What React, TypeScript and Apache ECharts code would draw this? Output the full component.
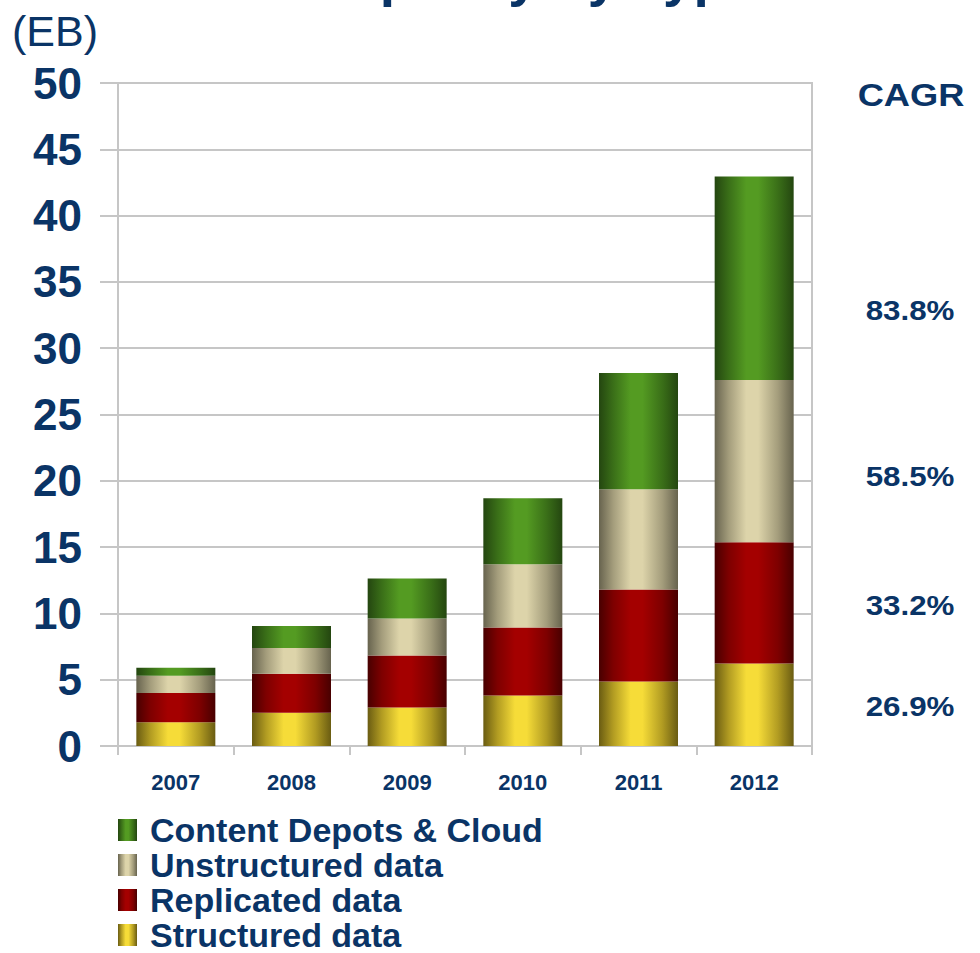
import React, { useEffect, useRef } from "react";
import * as echarts from "echarts";

const years = ["2007", "2008", "2009", "2010", "2011", "2012"];
const structured = [1.8, 2.5, 2.9, 3.8, 4.87, 6.23];
const replicated = [2.2, 2.95, 3.93, 5.14, 6.94, 9.13];
const unstructured = [1.3, 1.95, 2.79, 4.76, 7.56, 12.24];
const content = [0.6, 1.65, 3.02, 4.99, 8.76, 15.35];
const seriesNames = ["Structured data", "Replicated data", "Unstructured data", "Content Depots & Cloud"];
const cagrLabels = ["83.8%", "58.5%", "33.2%", "26.9%"];
const cagrY = [311, 477, 606, 707];

const NAVY = "#0a3466";
const GRID = "#c6c6c6";
const FONT = '"Liberation Sans", Arial, Helvetica, sans-serif';

function grad(edge: string, mid: string, light: string) {
  return new echarts.graphic.LinearGradient(0, 0, 1, 0, [
    { offset: 0, color: edge },
    { offset: 0.18, color: mid },
    { offset: 0.4, color: light },
    { offset: 0.55, color: light },
    { offset: 0.8, color: mid },
    { offset: 1, color: edge },
  ]);
}

export default function App() {
  const ref = useRef<HTMLDivElement>(null);
  useEffect(() => {
    if (!ref.current) return;
    const chart = echarts.init(ref.current, undefined, { renderer: "svg" });
    const colors = [
      grad("#6a5c12", "#b29c22", "#f6dc38"),
      grad("#480000", "#7e0000", "#a40000"),
      grad("#67634e", "#a49d7c", "#ddd4aa"),
      grad("#244610", "#3a6f18", "#549b22"),
    ];
    const data = [structured, replicated, unstructured, content];
    const graphics: any[] = [
      {
        type: "text",
        x: 175,
        y: -52,
        style: {
          text: "Data Capacity by Type",
          font: `bold 55px ${FONT}`,
          fill: NAVY,
          textAlign: "left",
          textVerticalAlign: "top",
        },
      },
      {
        type: "text",
        x: 12,
        y: 31,
        style: {
          text: "(EB)",
          font: `43px ${FONT}`,
          fill: NAVY,
          textAlign: "left",
          textVerticalAlign: "middle",
        },
      },
      {
        type: "text",
        x: 911,
        y: 95,
        scaleX: 1.17,
        style: {
          text: "CAGR",
          font: `bold 31px ${FONT}`,
          fill: NAVY,
          textAlign: "center",
          textVerticalAlign: "middle",
        },
      },
    ];
    cagrLabels.forEach((t, i) => {
      graphics.push({
        type: "text",
        x: 910,
        y: cagrY[i],
        scaleX: 1.16,
        style: {
          text: t,
          font: `bold 27px ${FONT}`,
          fill: NAVY,
          textAlign: "center",
          textVerticalAlign: "middle",
        },
      });
    });
    chart.setOption({
      animation: false,
      textStyle: { fontFamily: FONT },
      grid: {
        left: 118,
        right: 168,
        top: 83,
        bottom: 207,
        show: true,
        borderColor: GRID,
        borderWidth: 2,
      },
      legend: {
        orient: "vertical",
        left: 118,
        top: 813,
        height: 170,
        width: 500,
        padding: 0,
        itemWidth: 19,
        itemHeight: 22,
        itemGap: 1,
        icon: "rect",
        data: [...seriesNames].reverse(),
        textStyle: {
          fontSize: 34,
          fontWeight: "bold",
          color: NAVY,
          fontFamily: FONT,
          padding: [0, 0, 0, 8],
        },
      },
      xAxis: {
        type: "category",
        data: years,
        axisLine: { lineStyle: { color: GRID, width: 2 } },
        axisTick: { show: true, length: 9, lineStyle: { color: GRID, width: 2 } },
        axisLabel: { fontSize: 22, fontWeight: "bold", color: NAVY, margin: 25, fontFamily: FONT },
        splitLine: { show: false },
      },
      yAxis: {
        type: "value",
        min: 0,
        max: 50,
        interval: 5,
        axisLine: { show: true, lineStyle: { color: GRID, width: 2 } },
        axisTick: { show: true, length: 18, lineStyle: { color: GRID, width: 2 } },
        axisLabel: { fontSize: 44, fontWeight: "bold", color: NAVY, margin: 36, fontFamily: FONT },
        splitLine: { show: true, lineStyle: { color: GRID, width: 2 } },
      },
      series: seriesNames.map((name, i) => ({
        name,
        type: "bar",
        stack: "total",
        barWidth: 79,
        data: data[i],
        itemStyle: { color: colors[i] },
      })),
      graphic: graphics,
    });
    return () => chart.dispose();
  }, []);
  return <div ref={ref} style={{ width: 980, height: 953, position: "absolute", left: 0, top: 0 }} />;
}
